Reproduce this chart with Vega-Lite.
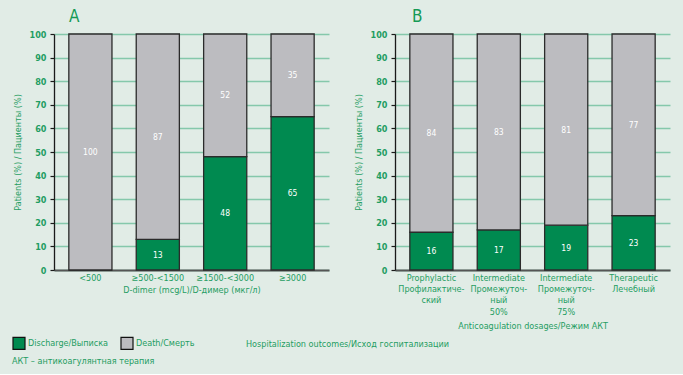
{
  "$schema": "https://vega.github.io/schema/vega-lite/v6.json",
  "background": "#e1ece6",
  "padding": {"left": 12, "top": 8, "right": 14, "bottom": 8},
  "datasets": {
    "a": [
      {"cat": "<500", "outcome": "Discharge/Выписка", "ord": 0, "v": 0},
      {"cat": "<500", "outcome": "Death/Смерть", "ord": 1, "v": 100},
      {"cat": "≥500-<1500", "outcome": "Discharge/Выписка", "ord": 0, "v": 13},
      {"cat": "≥500-<1500", "outcome": "Death/Смерть", "ord": 1, "v": 87},
      {"cat": "≥1500-<3000", "outcome": "Discharge/Выписка", "ord": 0, "v": 48},
      {"cat": "≥1500-<3000", "outcome": "Death/Смерть", "ord": 1, "v": 52},
      {"cat": "≥3000", "outcome": "Discharge/Выписка", "ord": 0, "v": 65},
      {"cat": "≥3000", "outcome": "Death/Смерть", "ord": 1, "v": 35}
    ],
    "b": [
      {"cat": "Prophylactic|Профилактиче-|ский", "outcome": "Discharge/Выписка", "ord": 0, "v": 16},
      {"cat": "Prophylactic|Профилактиче-|ский", "outcome": "Death/Смерть", "ord": 1, "v": 84},
      {"cat": "Intermediate|Промежуточ-|ный|50%", "outcome": "Discharge/Выписка", "ord": 0, "v": 17},
      {"cat": "Intermediate|Промежуточ-|ный|50%", "outcome": "Death/Смерть", "ord": 1, "v": 83},
      {"cat": "Intermediate|Промежуточ-|ный|75%", "outcome": "Discharge/Выписка", "ord": 0, "v": 19},
      {"cat": "Intermediate|Промежуточ-|ный|75%", "outcome": "Death/Смерть", "ord": 1, "v": 81},
      {"cat": "Therapeutic|Лечебный", "outcome": "Discharge/Выписка", "ord": 0, "v": 23},
      {"cat": "Therapeutic|Лечебный", "outcome": "Death/Смерть", "ord": 1, "v": 77}
    ]
  },
  "title": {
    "text": "АКТ – антикоагулянтная терапия",
    "orient": "bottom",
    "anchor": "start",
    "frame": "bounds",
    "fontSize": 9,
    "fontWeight": "normal",
    "color": "#1f9d62",
    "offset": 5
  },
  "hconcat": [
    {
      "width": 275,
      "height": 236,
      "title": {"text": "A", "anchor": "start", "frame": "group", "dx": 15, "fontSize": 17, "fontWeight": "normal", "color": "#169a55", "offset": 4},
      "data": {"name": "a"},
      "transform": [
        {"stack": "v", "groupby": ["cat"], "sort": [{"field": "ord"}], "as": ["lo", "hi"]},
        {"calculate": "(datum.lo + datum.hi) / 2", "as": "mid"}
      ],
      "encoding": {
        "x": {
          "field": "cat", "type": "nominal", "sort": ["<500", "≥500-<1500", "≥1500-<3000", "≥3000"],
          "scale": {"paddingInner": 0.36, "paddingOuter": 0.22},
          "axis": {"title": "D-dimer (mcg/L)/D-димер (мкг/л)", "labelAngle": 0}
        },
        "y": {"field": "lo", "type": "quantitative", "scale": {"domain": [0, 100]},
          "axis": {"title": "Patients (%) / Пациенты (%)", "values": [0,10,20,30,40,50,60,70,80,90,100], "labelOverlap": false}}
      },
      "layer": [
        {
          "mark": {"type": "bar", "stroke": "#2b2b2b", "strokeWidth": 1.3},
          "encoding": {
            "y2": {"field": "hi"},
            "color": {"field": "outcome", "type": "nominal",
              "scale": {"domain": ["Discharge/Выписка", "Death/Смерть"], "range": ["#008a50", "#bcbcc0"]},
              "legend": {"title": "Hospitalization outcomes/Исход госпитализации"}}
          }
        },
        {
          "transform": [{"filter": "datum.v > 0"}],
          "mark": {"type": "text", "color": "white", "fontSize": 8.5},
          "encoding": {
            "y": {"field": "mid", "type": "quantitative"},
            "text": {"field": "v", "type": "quantitative"}
          }
        }
      ]
    },
    {
      "width": 275,
      "height": 236,
      "title": {"text": "B", "anchor": "start", "frame": "group", "dx": 17, "fontSize": 17, "fontWeight": "normal", "color": "#169a55", "offset": 4},
      "data": {"name": "b"},
      "transform": [
        {"stack": "v", "groupby": ["cat"], "sort": [{"field": "ord"}], "as": ["lo", "hi"]},
        {"calculate": "(datum.lo + datum.hi) / 2", "as": "mid"}
      ],
      "encoding": {
        "x": {
          "field": "cat", "type": "nominal",
          "sort": ["Prophylactic|Профилактиче-|ский", "Intermediate|Промежуточ-|ный|50%", "Intermediate|Промежуточ-|ный|75%", "Therapeutic|Лечебный"],
          "scale": {"paddingInner": 0.36, "paddingOuter": 0.22},
          "axis": {"title": "Anticoagulation dosages/Режим АКТ", "labelAngle": 0, "labelExpr": "split(datum.label, '|')", "labelLineHeight": 11.4, "titlePadding": 5}
        },
        "y": {"field": "lo", "type": "quantitative", "scale": {"domain": [0, 100]},
          "axis": {"title": "Patients (%) / Пациенты (%)", "values": [0,10,20,30,40,50,60,70,80,90,100], "labelOverlap": false}}
      },
      "layer": [
        {
          "mark": {"type": "bar", "stroke": "#2b2b2b", "strokeWidth": 1.3},
          "encoding": {
            "y2": {"field": "hi"},
            "color": {"field": "outcome", "type": "nominal",
              "scale": {"domain": ["Discharge/Выписка", "Death/Смерть"], "range": ["#008a50", "#bcbcc0"]},
              "legend": {"title": "Hospitalization outcomes/Исход госпитализации"}}
          }
        },
        {
          "mark": {"type": "text", "color": "white", "fontSize": 8.5},
          "encoding": {
            "y": {"field": "mid", "type": "quantitative"},
            "text": {"field": "v", "type": "quantitative"}
          }
        }
      ]
    }
  ],
  "spacing": 25,
  "resolve": {"scale": {"color": "shared"}, "legend": {"color": "shared"}},
  "config": {
    "font": "DejaVu Sans Condensed, DejaVu Sans, sans-serif",
    "view": {"stroke": null},
    "axis": {
      "labelColor": "#1f9d62", "titleColor": "#1f9d62", "labelFontSize": 9, "titleFontSize": 9,
      "titleFontWeight": "normal", "labelLimit": 0
    },
    "axisX": {
      "domainColor": "#555555", "domainWidth": 2, "ticks": false, "labelPadding": 3, "titlePadding": 3, "grid": false
    },
    "axisY": {
      "domainColor": "#1a1a1a", "domainWidth": 1.3, "tickColor": "#1a1a1a", "tickSize": 4, "tickWidth": 1.2,
      "labelFontWeight": "bold", "labelPadding": 4, "titlePadding": 7,
      "grid": true, "gridColor": "#85c8ab", "gridWidth": 1.5
    },
    "legend": {
      "orient": "none", "legendX": -42, "legendY": 302, "direction": "horizontal", "symbolType": "square", "symbolSize": 144,
      "symbolStrokeColor": "#111111", "symbolStrokeWidth": 1.2, "symbolOpacity": 1,
      "labelColor": "#1f9d62", "labelFontSize": 9, "labelOffset": 2, "columnPadding": 9,
      "titleOrient": "right", "titleColor": "#1f9d62", "titleFontSize": 9, "titleFontWeight": "normal",
      "titlePadding": 51, "titleLimit": 0, "labelLimit": 0
    }
  }
}
